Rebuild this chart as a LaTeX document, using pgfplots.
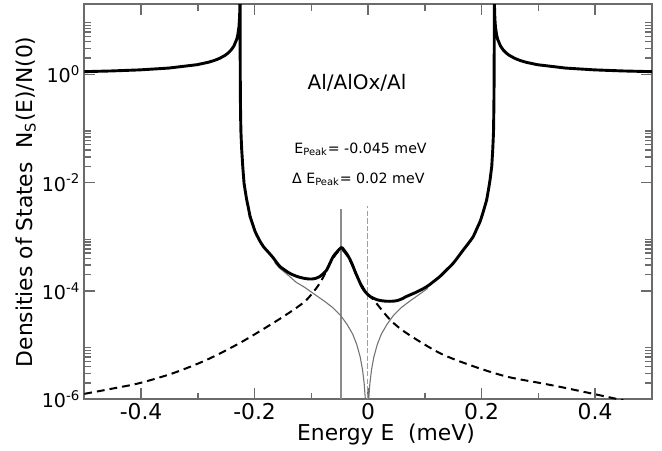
\documentclass[border=0pt]{standalone}
\usepackage{fontspec}
\setmainfont{DejaVu Sans}
\usepackage{pgfplots}
\pgfplotsset{compat=1.18}
\definecolor{axgray}{gray}{0.42}
\definecolor{thingray}{gray}{0.45}
\definecolor{vgray}{gray}{0.55}
\definecolor{vdgray}{gray}{0.62}
\begin{document}
\begin{tikzpicture}
\begin{axis}[
 scale only axis, width=312.125pt, height=217.25pt,
 ymode=log, xmin=-0.5, xmax=0.5, ymin=1e-6, ymax=19.6,
 xtick={-0.4,-0.2,0,0.2,0.4}, xticklabels={-0.4,-0.2,0,0.2,0.4},
 minor xtick={-0.3,-0.1,0.1,0.3},
 ytick={1e-6,1e-4,1e-2,1},
 yticklabels={10\textsuperscript{-6},10\textsuperscript{-4},10\textsuperscript{-2},10\textsuperscript{0}},
 minor ytick={2e-6,3e-6,4e-6,5e-6,6e-6,7e-6,8e-6,9e-6,2e-4,3e-4,4e-4,5e-4,6e-4,7e-4,8e-4,9e-4,2e-2,3e-2,4e-2,5e-2,6e-2,7e-2,8e-2,9e-2,2,3,4,5,6,7,8,9},
 tick align=inside, major tick length=6pt, minor tick length=3.5pt,
 axis line style={axgray, line width=0.9pt},
 tick style={axgray, line width=0.8pt},
 xticklabel style={font=\fontsize{12}{14}\selectfont, inner sep=2pt},
 yticklabel style={font=\fontsize{10.5}{12}\selectfont, inner sep=2pt},
 xlabel={Energy E\ \ (meV)},
 ylabel={Densities of States\ \ N\textsubscript{S}(E)/N(0)},
 xlabel style={at={(axis description cs:0.5316,-0.1048)}, anchor=base, font=\fontsize{12}{14}\selectfont},
 ylabel style={at={(axis description cs:-0.0916,0.5)}, anchor=base, font=\fontsize{12}{14}\selectfont},
]
% vertical marker lines
\addplot[vgray, line width=0.6pt] coordinates {(-0.0476,1e-6) (-0.0476,3.24e-3)};
\addplot[vdgray, line width=0.6pt, dash pattern=on 3pt off 1.2pt] coordinates {(-0.0015,1e-6) (-0.0015,3.7e-3)};
% dashed peak contribution
\addplot[black, line width=1.1pt, dash pattern=on 4.3pt off 2.75pt, smooth, tension=0.5] coordinates {
(-0.5,1.26e-6) (-0.45,1.58e-6) (-0.4018,2.0e-6) (-0.343,3.05e-6) (-0.284,5.37e-6)
(-0.2256,1.10e-5) (-0.1669,2.57e-5) (-0.1316,4.47e-5) (-0.108,6.92e-5) (-0.0846,1.41e-4)
(-0.067,3.24e-4) (-0.055,5.01e-4) (-0.047,5.89e-4) (-0.038,4.68e-4) (-0.03,3.39e-4)
(-0.02,1.91e-4) (-0.01,1.12e-4) (0.0,8.32e-5) (0.0094,6.92e-5) (0.0388,2.95e-5)
(0.068,1.66e-5) (0.127,7.08e-6) (0.1856,4.07e-6) (0.244,2.63e-6) (0.303,2.0e-6)
(0.338,1.70e-6) (0.397,1.26e-6) (0.45,9.55e-7)};
% thin gap contribution
\addplot[thingray, line width=0.6pt, line join=round] coordinates {
(-0.1648,3.39e-4) (-0.1568,2.69e-4) (-0.1418,2.0e-4) (-0.1268,1.45e-4) (-0.1118,1.17e-4)
(-0.0918,8.32e-5) (-0.0768,6.46e-5) (-0.0618,4.90e-5) (-0.0478,3.47e-5) (-0.0368,2.40e-5)
(-0.0268,1.58e-5) (-0.0198,1.02e-5) (-0.0138,6.03e-6) (-0.0098,3.55e-6) (-0.0068,1.95e-6)
(-0.0048,1.0e-6) (-0.0038,5.9e-7) (-0.0028,2.4e-7) (-0.0018,1e-9)
(-0.0008,2.4e-7) (0.0002,5.9e-7) (0.0012,1.0e-6) (0.0032,1.95e-6) (0.0062,3.55e-6)
(0.0102,6.03e-6) (0.0162,1.02e-5) (0.0232,1.58e-5) (0.0332,2.40e-5) (0.0442,3.47e-5)
(0.0582,4.90e-5) (0.0732,6.46e-5) (0.0882,8.32e-5) (0.1052,1.12e-4)};
% total density of states: left outer branch and left gap edge
\addplot[black, line width=1.6pt, line join=round, line cap=round] coordinates {
(-0.5,1.1194) (-0.4515,1.153) (-0.4015,1.207) (-0.3515,1.3015) (-0.3015,1.5033)
(-0.2815,1.6667) (-0.2715,1.7911) (-0.2615,1.9697) (-0.2515,2.252) (-0.2465,2.4687)
(-0.2415,2.7854) (-0.2365,3.3073) (-0.2315,4.4068) (-0.2295,5.3621) (-0.2275,7.5333)
(-0.2265,10.618) (-0.226,14.99) (-0.2258,19.34) (-0.2257,23.68) (-0.22555,47.3) (-0.2255,500)
(-0.22545,30) (-0.2254,5.0) (-0.2252,1.0) (-0.2248,0.27) (-0.2244,0.14) (-0.224,0.087)
(-0.2233,0.058) (-0.2226,0.0403) (-0.2217,0.0285) (-0.2208,0.0200) (-0.2197,0.0141)
(-0.2185,0.00977) (-0.2163,0.0069) (-0.2138,0.00479) (-0.2108,0.0034) (-0.2079,0.00237)};
% gap interior
\addplot[black, line width=1.6pt, line join=round, line cap=round, smooth, tension=0.5] coordinates {
(-0.2079,0.00237)
(-0.2035,0.00173) (-0.1991,0.00126) (-0.192,0.00089) (-0.1845,6.61e-4) (-0.1757,5.2e-4)
(-0.1669,4.07e-4) (-0.161,3.35e-4) (-0.1551,2.82e-4) (-0.1478,2.48e-4) (-0.1404,2.19e-4)
(-0.133,2.0e-4) (-0.1257,1.86e-4) (-0.114,1.72e-4) (-0.1022,1.66e-4) (-0.093,1.70e-4)
(-0.0846,1.86e-4) (-0.0787,2.09e-4) (-0.0728,2.45e-4) (-0.067,3.27e-4) (-0.0611,4.37e-4)
(-0.0545,5.3e-4) (-0.0476,6.31e-4) (-0.044,6.0e-4) (-0.0405,5.37e-4) (-0.0361,4.6e-4)
(-0.0317,3.80e-4) (-0.0273,3.0e-4) (-0.0229,2.29e-4) (-0.0185,1.8e-4) (-0.0141,1.41e-4)
(-0.0097,1.17e-4) (-0.0053,9.77e-5) (-0.0009,8.7e-5) (0.0035,7.94e-5) (0.0094,7.35e-5)
(0.0153,6.92e-5) (0.024,6.6e-5) (0.033,6.46e-5) (0.0418,6.46e-5) (0.0505,6.61e-5)
(0.059,7.1e-5) (0.068,7.94e-5) (0.086,9.6e-5) (0.1034,1.20e-4) (0.115,1.48e-4)
(0.1269,1.86e-4) (0.1385,2.45e-4) (0.150,3.24e-4) (0.159,4.3e-4) (0.168,5.75e-4)
(0.177,7.6e-4) (0.1856,1.02e-3) (0.1915,1.40e-3) (0.1974,1.91e-3) (0.2032,2.95e-3)
(0.209,4.79e-3)};
% right gap edge and right outer branch
\addplot[black, line width=1.6pt, line join=round, line cap=round] coordinates {
(0.209,4.79e-3) (0.212,7.2e-3) (0.215,1.12e-2) (0.218,2.0e-2) (0.2197,4.03e-2)
(0.2204,0.058) (0.2211,0.087) (0.2214,0.14) (0.2218,0.27) (0.2222,1.0) (0.2224,5.0)
(0.22245,30) (0.2225,500)
(0.22255,47.3) (0.2227,23.68) (0.2228,19.34) (0.223,14.99) (0.2235,10.618) (0.2245,7.5333)
(0.2265,5.3621) (0.2285,4.4068) (0.2335,3.3073) (0.2385,2.7854) (0.2435,2.4687)
(0.2485,2.252) (0.2585,1.9697) (0.2685,1.7911) (0.2785,1.6667) (0.2985,1.5033)
(0.3485,1.3015) (0.3985,1.207) (0.4485,1.153) (0.4985,1.1194) (0.5,1.119)};
\node[anchor=base west, inner sep=0pt, font=\fontsize{11}{13}\selectfont] at (axis cs:-0.107,0.515) {Al/AlOx/Al};
\node[anchor=base west, inner sep=0pt, font=\fontsize{7.8}{9}\selectfont] at (axis cs:-0.1304,0.035) {E\textsubscript{Peak}= -0.045 meV};
\node[anchor=base west, inner sep=0pt, font=\fontsize{7.8}{9}\selectfont] at (axis cs:-0.1344,0.0098) {Δ E\textsubscript{Peak}= 0.02 meV};
\end{axis}
\pgfresetboundingbox
\path[use as bounding box] (-46.365pt,-28.435pt) rectangle (317.735pt,219.615pt);
\end{tikzpicture}
\end{document}
